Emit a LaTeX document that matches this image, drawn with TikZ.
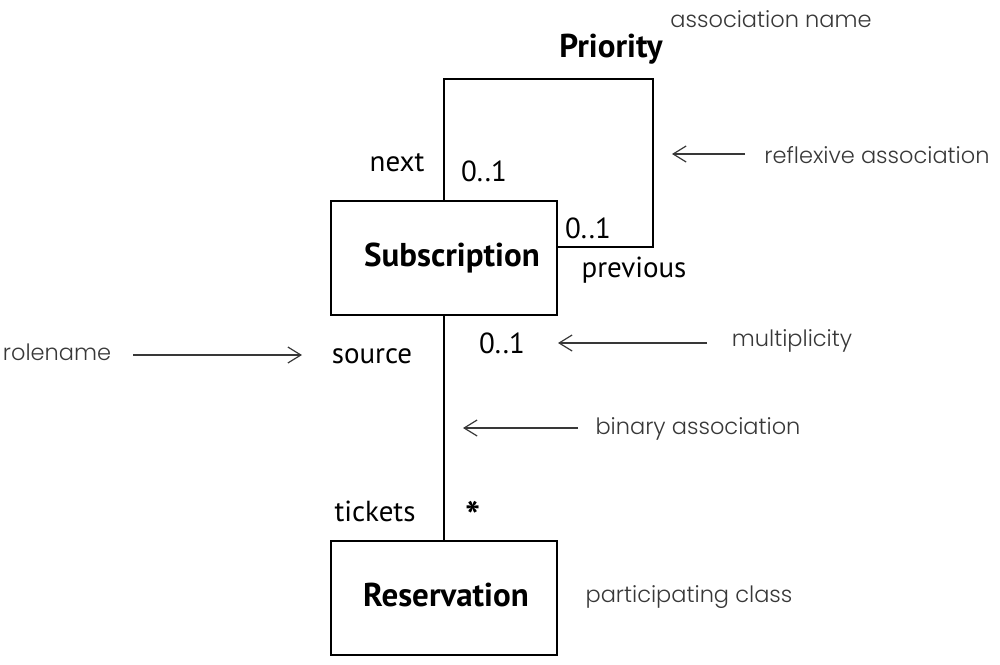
\documentclass[tikz,border=0pt]{standalone}
\usepackage{fontspec}
\setmainfont{PT Sans}
\newfontfamily\annfont{Poppins Light}
\usetikzlibrary{arrows.meta}
\definecolor{anngray}{HTML}{383838}
\begin{document}
\begin{tikzpicture}[x=1pt,y=-1pt,
  classbox/.style={draw,line width=1.5pt,minimum width=226pt,minimum height=114pt,inner sep=0pt,font=\fontsize{33}{36}\selectfont\bfseries},
  lbl/.style={inner sep=0pt,font=\fontsize{29}{32}\selectfont},
  ann/.style={inner sep=0pt,text=anngray,font=\annfont\fontsize{22.5}{26}\selectfont},
  link/.style={line width=1.5pt},
  pointer/.style={line width=1.2pt,draw=anngray,-{Straight Barb[length=13pt,width=16pt,line width=1.2pt]}}
]
\useasboundingbox (0,0) rectangle (1000,664);
% classes
\node[classbox] (sub) at (444,258) {\hspace*{16pt}Subscription\raisebox{0pt}[0pt][6pt]{}};
\node[classbox] (res) at (444,598) {\hspace*{4pt}Reservation\raisebox{0pt}[0pt][6pt]{}};
% associations
\coordinate (lc) at (653,79);
\coordinate (le) at (557,247);
\draw[link] (sub.north) |- (lc) |- (sub.east |- le);
\draw[link] (sub.south) -- (res.north);
% labels
\node[inner sep=0pt,font=\fontsize{33}{36}\selectfont\bfseries] (prio) at (611,49) {Priority};
\node[lbl] (next) at (397,163) {next};
\node[lbl] (m1) at (484,171) {0..1};
\node[lbl] (m2) at (588,228) {0..1};
\node[lbl] (prev) at (634,270) {previous};
\node[lbl] (src) at (372,356) {source};
\node[lbl] (m3) at (502,343) {0..1};
\node[lbl] (tick) at (375,511) {tickets};
\node[inner sep=0pt,font=\fontsize{40}{40}\selectfont\bfseries] (star) at (473,516) {*};
% annotations
\node[ann] (aname) at (771,19) {association name};
\node[ann] (arefl) at (877,155) {reflexive association};
\node[ann] (arole) at (57,352) {rolename};
\node[ann] (amult) at (792,341) {multiplicity};
\node[ann] (abin) at (698,429) {binary association};
\node[ann] (apart) at (689,597) {participating class};
% pointers
\coordinate (p1s) at (745,154); \coordinate (p1e) at (672,154);
\coordinate (p2s) at (133,355); \coordinate (p2e) at (302,355);
\coordinate (p3s) at (707,343); \coordinate (p3e) at (558,343);
\coordinate (p4s) at (578,428); \coordinate (p4e) at (463,428);
\draw[pointer] (p1s) -- (p1e);
\draw[pointer] (p2s) -- (p2e);
\draw[pointer] (p3s) -- (p3e);
\draw[pointer] (p4s) -- (p4e);
\end{tikzpicture}
\end{document}
